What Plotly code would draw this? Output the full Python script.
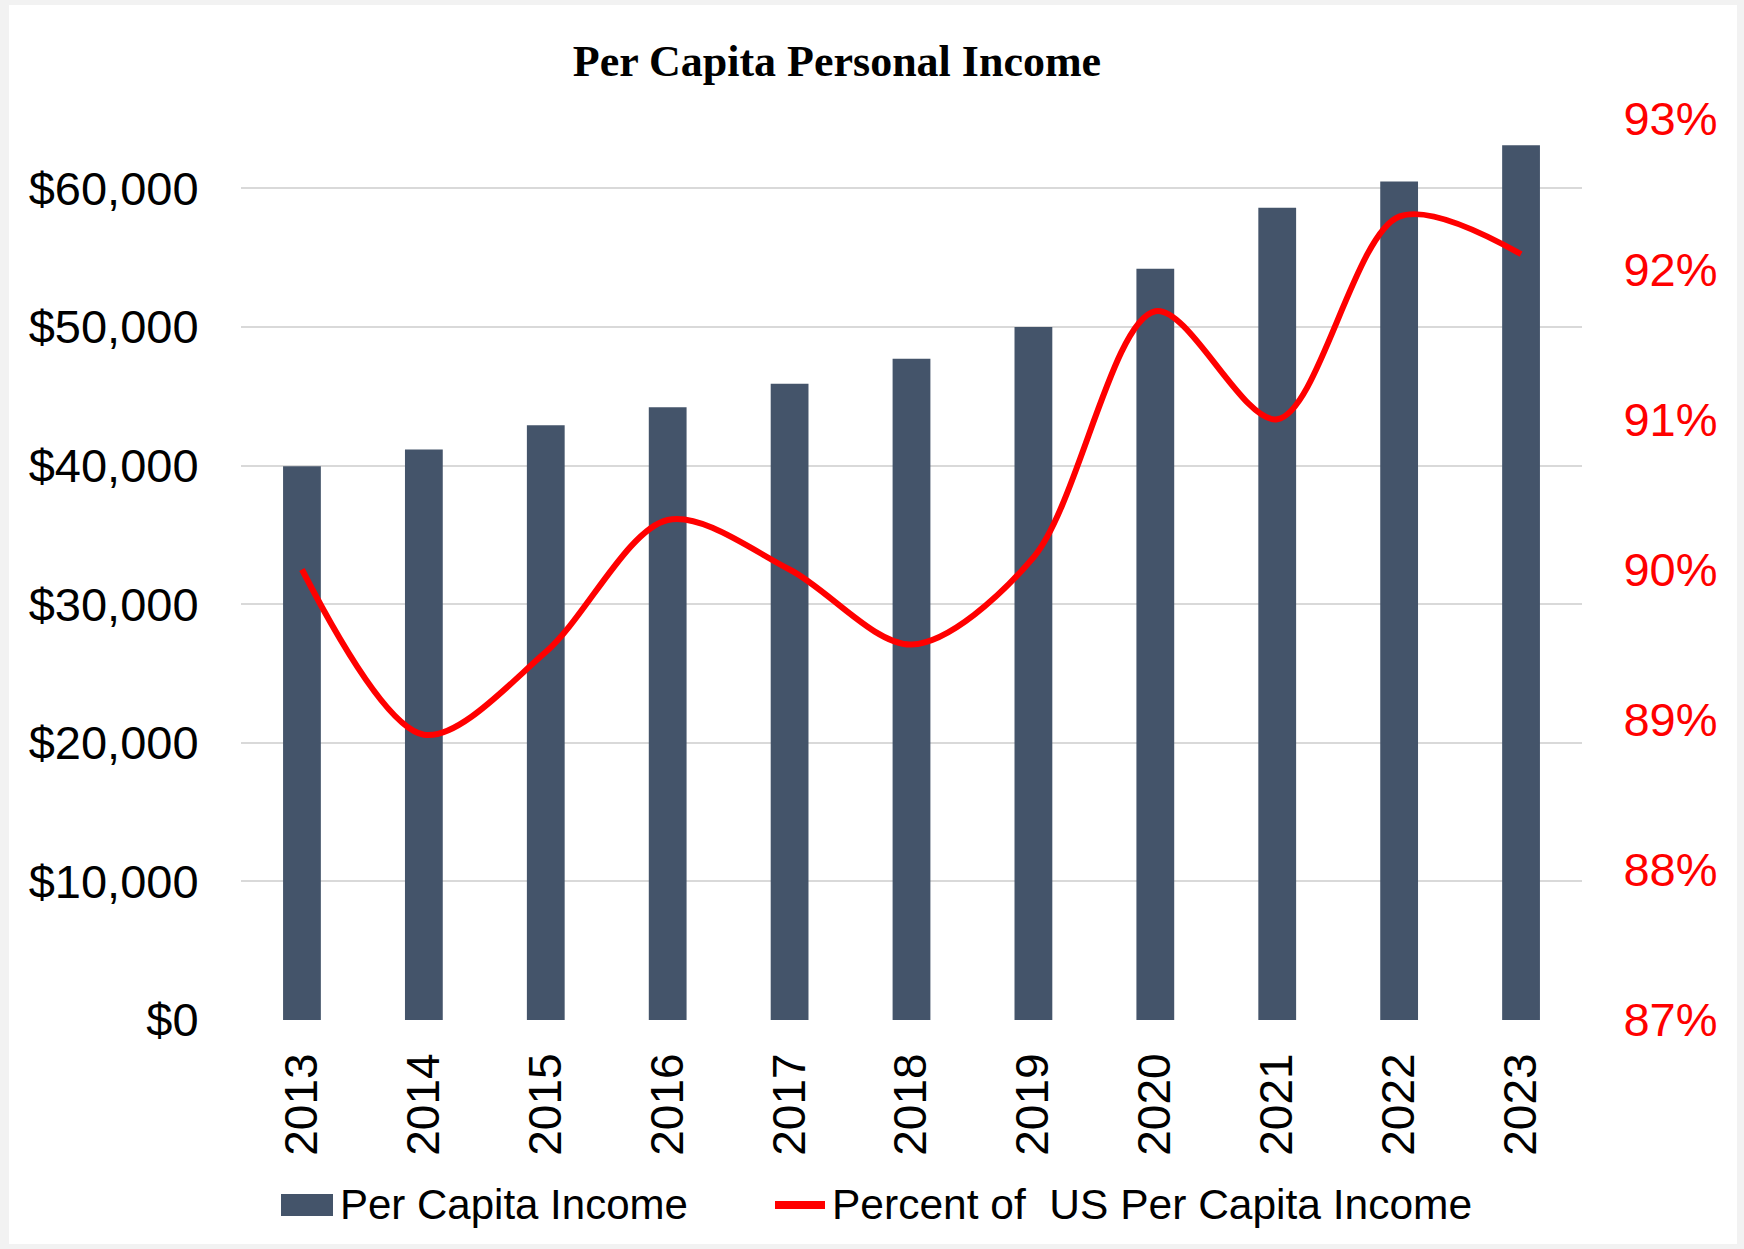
import plotly.graph_objects as go

years = ["2013", "2014", "2015", "2016", "2017", "2018", "2019", "2020", "2021", "2022", "2023"]
per_capita_income = [39950, 41150, 42900, 44200, 45900, 47700, 50000, 54200, 58600, 60500, 63100]
percent_of_us = [90.0, 88.9, 89.45, 90.33, 90.0, 89.5, 90.08, 91.72, 91.0, 92.35, 92.1]
left_ticks = [0, 10000, 20000, 30000, 40000, 50000, 60000]
right_ticks = [87, 88, 89, 90, 91, 92, 93]
bar_name = "Per Capita Income"
line_name = "Percent of  US Per Capita Income"

W, H = 1744, 1249
L, R, T, B = 241, 1582, 119, 1020

def px(xp):
    return (xp - L) / (R - L)

def py(yp):
    return (B - yp) / (B - T)

BAR_COLOR = "#44546A"
LINE_COLOR = "#FF0000"
SANS = "Liberation Sans, Arial, sans-serif"

fig = go.Figure()
fig.add_trace(go.Bar(
    x=years, y=per_capita_income, name=bar_name,
    marker=dict(color=BAR_COLOR, line=dict(width=0)), width=0.31, yaxis="y",
    showlegend=False,
))
fig.add_trace(go.Scatter(
    x=years, y=percent_of_us, name=line_name,
    mode="lines", line=dict(color=LINE_COLOR, width=6, shape="spline", smoothing=0.9),
    yaxis="y2", showlegend=False,
))

fig.update_layout(
    width=W, height=H,
    margin=dict(l=L, r=W - R, t=T, b=H - B, pad=0),
    paper_bgcolor="#f2f2f2", plot_bgcolor="white",
    showlegend=False,
    title=dict(
        text="<b>Per Capita Personal Income</b>",
        font=dict(family="Liberation Serif, Times New Roman, serif", size=44, color="black"),
        x=px(837), xref="paper", xanchor="center",
        y=1 - 61 / H, yref="container", yanchor="middle",
    ),
    xaxis=dict(
        type="category", showgrid=False, showline=False, zeroline=False,
        tickangle=-90, tickfont=dict(family=SANS, size=46, color="black"),
        ticks="outside", ticklen=14, tickcolor="rgba(0,0,0,0)",
    ),
    yaxis=dict(
        range=[0, 65000], tickmode="array", tickvals=left_ticks,
        ticktext=["${:,}".format(v) for v in left_ticks],
        showgrid=True, gridcolor="#d9d9d9", gridwidth=2, zeroline=False, showline=False,
        tickfont=dict(family=SANS, size=47, color="black"),
        ticks="outside", ticklen=32, tickcolor="rgba(0,0,0,0)",
    ),
    yaxis2=dict(
        range=[87, 93], tickmode="array", tickvals=right_ticks,
        ticktext=["{}%".format(v) for v in right_ticks],
        overlaying="y", side="right",
        showgrid=False, zeroline=False, showline=False,
        tickfont=dict(family=SANS, size=47, color=LINE_COLOR),
        ticks="outside", ticklen=31, tickcolor="rgba(0,0,0,0)",
    ),
    shapes=[
        dict(type="rect", xref="paper", yref="paper", layer="below",
             x0=px(9), x1=px(1737), y0=py(1244), y1=py(5),
             fillcolor="white", line=dict(width=0)),
        # legend swatches
        dict(type="rect", xref="paper", yref="paper",
             x0=px(281), x1=px(333), y0=py(1216), y1=py(1194),
             fillcolor=BAR_COLOR, line=dict(width=0)),
        dict(type="line", xref="paper", yref="paper",
             x0=px(775), x1=px(825), y0=py(1205), y1=py(1205),
             line=dict(color=LINE_COLOR, width=8)),
    ],
    annotations=[
        dict(text=bar_name, xref="paper", yref="paper", x=px(338), y=py(1204),
             xanchor="left", yanchor="middle", showarrow=False,
             font=dict(family=SANS, size=42, color="black")),
        dict(text=line_name.replace("  ", "&nbsp; "), xref="paper", yref="paper", x=px(830), y=py(1204),
             xanchor="left", yanchor="middle", showarrow=False,
             font=dict(family=SANS, size=42.5, color="black")),
    ],
)

fig.write_html(
    "out.html",
    config={"displayModeBar": False},
    post_script="document.body.style.margin='0px';document.body.style.overflow='hidden';",
)
